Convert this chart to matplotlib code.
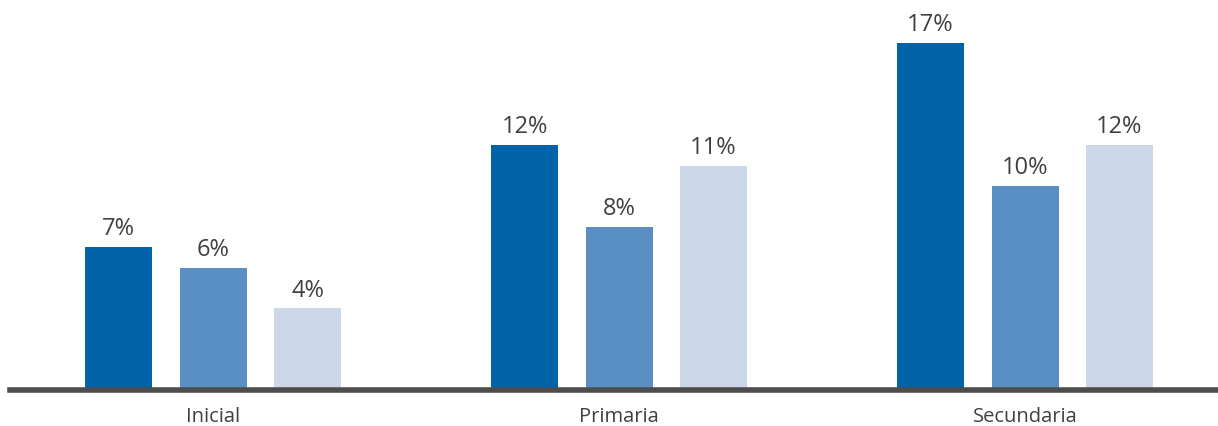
import matplotlib
matplotlib.use("Agg")
import matplotlib.pyplot as plt
import numpy as np

categories = ["Inicial", "Primaria", "Secundaria"]
serie_1 = [7, 12, 17]
serie_2 = [6, 8, 10]
serie_3 = [4, 11, 12]
value_labels = [["7%", "12%", "17%"], ["6%", "8%", "10%"], ["4%", "11%", "12%"]]

colors = ["#0264A8", "#5A8FC3", "#CCD7EA"]

plt.rcParams['font.family'] = ['Open Sans', 'DejaVu Sans']

fig = plt.figure(figsize=(12.18, 4.27), dpi=100)
ax = fig.add_axes([10/1218, 36/427, 1208/1218, 391/427])

x = np.arange(len(categories))
width = 67/406
offset = 94.5/406
series = [serie_1, serie_2, serie_3]
for i, (vals, col) in enumerate(zip(series, colors)):
    pos = x + (i - 1) * offset
    bars = ax.bar(pos, vals, width=width, color=col, zorder=2)
    for b, lab in zip(bars, value_labels[i]):
        ax.text(b.get_x() + b.get_width()/2, b.get_height() + 0.33, lab,
                ha="center", va="bottom", fontsize=17, color="#404040")

ax.set_xlim(-0.5, (1218-213)/406)
ax.set_ylim(0, 391/20.4)
for s in ["top", "right", "left"]:
    ax.spines[s].set_visible(False)
ax.spines["bottom"].set_color("#4d4d4d")
ax.spines["bottom"].set_linewidth(4)
ax.spines["bottom"].set_zorder(3)
ax.set_yticks([])
ax.set_xticks(x)
ax.set_xticklabels(categories, fontsize=14.5, color="#404040")
ax.tick_params(axis="x", length=0, pad=11.5)

fig.savefig("out.png", dpi=100)
